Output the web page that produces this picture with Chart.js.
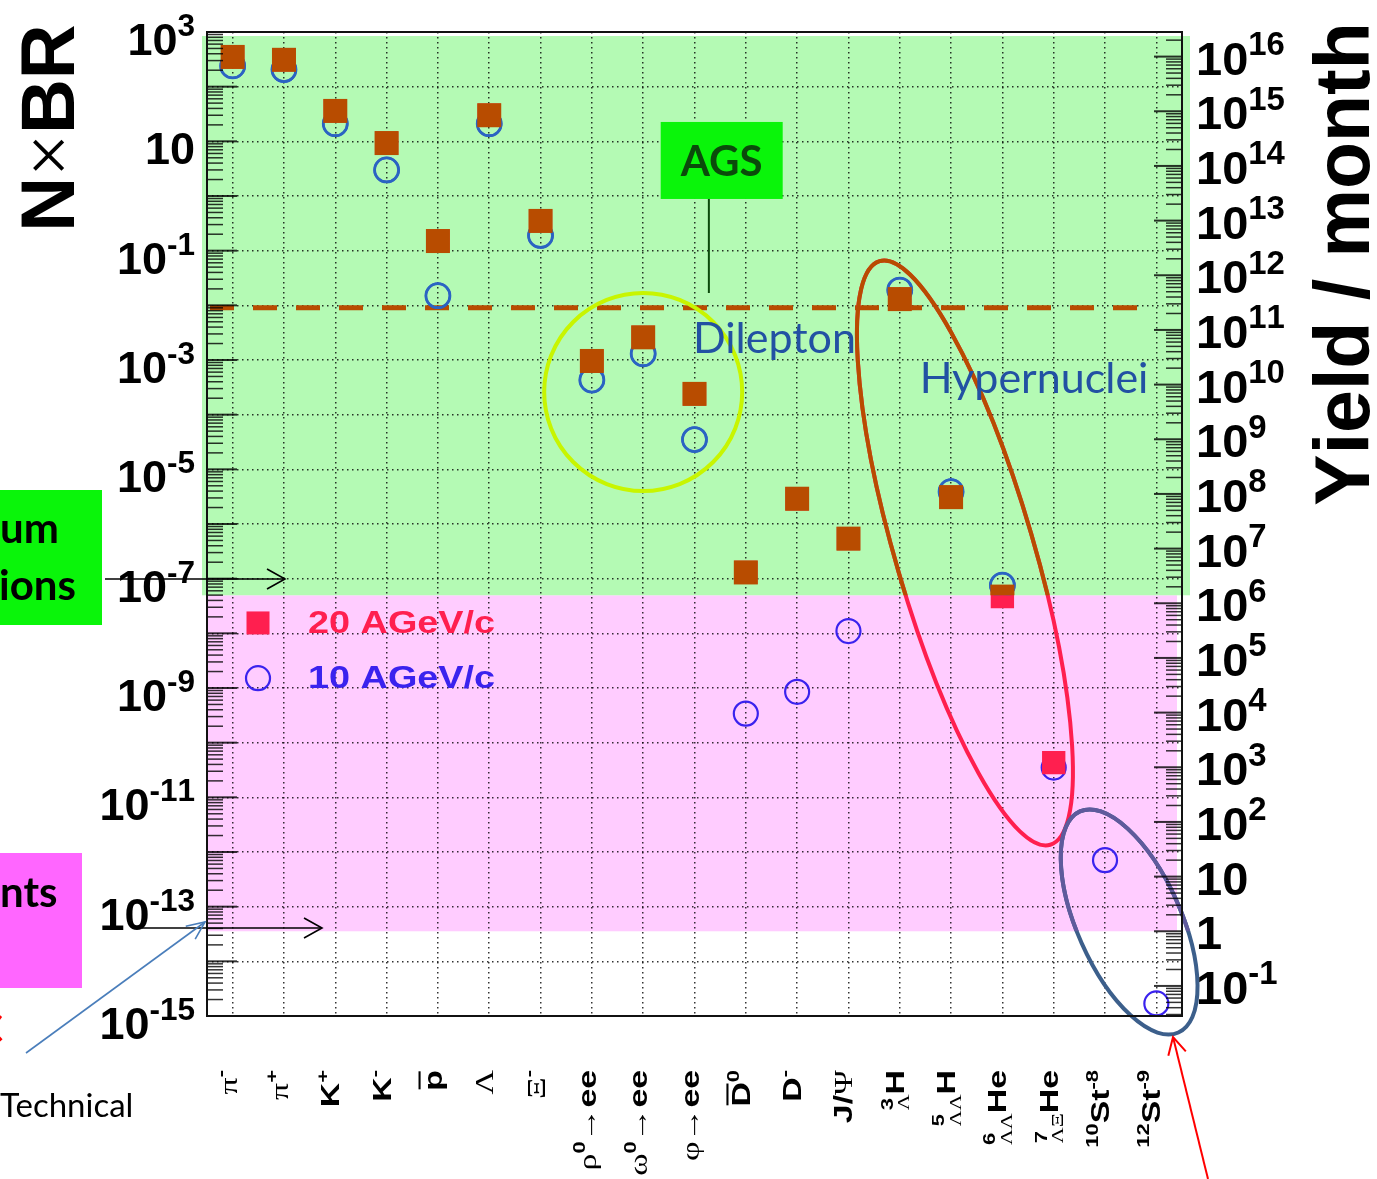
<!DOCTYPE html>
<html lang="en">
<head>
<meta charset="UTF-8">
<title>N×BR and yield per month</title>
<script src="https://cdn.jsdelivr.net/npm/chart.js@4"></script>
<style>
  body { margin: 0; background: #fff; }
  #wrap { width: 1377px; height: 1179px; }
</style>
</head>
<body>
<div id="wrap"><canvas id="chart" width="1377" height="1179"></canvas></div>
<script>
// particle species, TLatex-like markup (^{} sup, _{} sub, #bar{} overline)
const categories = ['π^{-}', 'π^{+}', 'K^{+}', 'K^{-}', '#bar{p}', 'Λ', 'Ξ^{-}',
  'ρ^{0}→ee', 'ω^{0}→ee', 'φ→ee', '#bar{D}^{0}', 'D^{-}', 'J/Ψ',
  '^{3}_{Λ}H', '^{5}_{ΛΛ}H', '^{6}_{ΛΛ}He', '^{7}_{ΛΞ}He', '^{10}St^{-8}', '^{12}St^{-9}'];

// N x BR per species
const agev20 = [350, 310, 36, 9.3, 0.15, 30, 0.35, 9.6e-4, 2.6e-3, 2.4e-4, 1.3e-7, 2.9e-6, 5.4e-7,
  1.3e-2, 3.1e-6, 4.7e-8, 4.3e-11, null, null];
const agev10 = [240, 205, 21, 3.0, 1.5e-2, 21, 0.19, 4.3e-4, 1.3e-3, 3.5e-5, 3.4e-10, 8.5e-10, 1.1e-8,
  1.9e-2, 3.9e-6, 7.6e-8, 3.5e-11, 7.1e-13, 1.7e-15];

const leftTickValues = [1e3, 1e1, 1e-1, 1e-3, 1e-5, 1e-7, 1e-9, 1e-11, 1e-13, 1e-15];
const leftTickLabels = ['10^{3}', '10', '10^{-1}', '10^{-3}', '10^{-5}', '10^{-7}', '10^{-9}', '10^{-11}', '10^{-13}', '10^{-15}'];
const rightTickValues = [1e16, 1e15, 1e14, 1e13, 1e12, 1e11, 1e10, 1e9, 1e8, 1e7, 1e6, 1e5, 1e4, 1e3, 1e2, 1e1, 1, 1e-1];
const rightTickLabels = ['10^{16}', '10^{15}', '10^{14}', '10^{13}', '10^{12}', '10^{11}', '10^{10}', '10^{9}', '10^{8}',
  '10^{7}', '10^{6}', '10^{5}', '10^{4}', '10^{3}', '10^{2}', '10', '1', '10^{-1}'];

const yieldShift = 13.45;      // decades between N x BR and yield / month
const greenFloor = 1.4e6;      // yield/month, bottom of green band
const pinkFloor = 1;           // yield/month, bottom of pink band
const agsLevel = 9e-3;         // AGS dashed line (N x BR)

const RED = '#ff1f4f', BROWN = '#b84c00', BLUE = '#3a22ee', TEAL = '#2a64c2';
const GREEN_BAND = '#b4fab4', PINK_BAND = '#ffccff', LIME = '#0af50a', DARKGREEN = '#0b4a0b';
const TEXTBLUE = '#2251a3';

// ---- little rich-text helper for super/subscripts ----
const SYM = /[\u0370-\u03FF\u00D7\u2190-\u27FF]/;
function fontFor(ch, size, bold) {
  if (SYM.test(ch)) return size + 'px "Liberation Serif", "DejaVu Sans", serif';
  return (bold ? 'bold ' : '') + size + 'px "Liberation Sans", Arial, sans-serif';
}
function textWidth(ctx, t, size, bold) {
  let w = 0;
  for (const ch of t) { ctx.font = fontFor(ch, size, bold); w += ctx.measureText(ch).width; }
  return w;
}
function parseRich(s) {
  const segs = [];
  let i = 0;
  while (i < s.length) {
    const c = s[i];
    if ((c === '^' || c === '_') && s[i + 1] === '{') {
      const end = s.indexOf('}', i);
      const kind = c === '^' ? 'sup' : 'sub';
      const prev = segs[segs.length - 1];
      segs.push({ t: s.slice(i + 2, end), kind, stack: kind === 'sub' && !!prev && prev.kind === 'sup' && prev.end === i, end: end + 1 });
      i = end + 1;
    } else if (s.startsWith('#bar{', i)) {
      const end = s.indexOf('}', i);
      segs.push({ t: s.slice(i + 5, end), kind: 'bar', end: end + 1 });
      i = end + 1;
    } else {
      let j = i + 1;
      while (j < s.length && !'^_#'.includes(s[j])) j++;
      segs.push({ t: s.slice(i, j), kind: 'base', end: j });
      i = j;
    }
  }
  return segs;
}
function layoutRich(ctx, s, size, bold, sc) {
  sc = Object.assign({ sup: 0.65, raise: 0.42, sub: 0.65, drop: 0.22 }, sc || {});
  let x = 0, stackStart = 0, prevW = 0;
  const runs = [];
  for (const seg of parseRich(s)) {
    const small = seg.kind === 'sup' || seg.kind === 'sub';
    const sz = small ? size * sc[seg.kind] : size;
    const dy = seg.kind === 'sup' ? -size * sc.raise : seg.kind === 'sub' ? size * sc.drop : 0;
    const w = textWidth(ctx, seg.t, sz, bold);
    if (seg.stack) x = stackStart;
    runs.push({ t: seg.t, x, dy, sz, w, bar: seg.kind === 'bar' });
    if (seg.stack) x = stackStart + Math.max(prevW, w);
    else { stackStart = x; prevW = w; x += w; }
  }
  return { runs, width: x };
}
function drawRich(ctx, lay, x0, y0, bold) {
  ctx.textAlign = 'left';
  ctx.textBaseline = 'alphabetic';
  for (const r of lay.runs) {
    let x = x0 + r.x;
    for (const ch of r.t) {
      ctx.font = fontFor(ch, r.sz, bold);
      ctx.fillText(ch, x, y0 + r.dy);
      x += ctx.measureText(ch).width;
    }
    if (r.bar) ctx.fillRect(x0 + r.x + 1, y0 - r.sz * 0.9, r.w - 2, Math.max(2, r.sz * 0.08));
  }
}

function arrow(ctx, x1, y1, x2, y2, color, w, head, half) {
  const ang = Math.atan2(y2 - y1, x2 - x1);
  ctx.save();
  ctx.strokeStyle = color; ctx.lineWidth = w;
  ctx.beginPath(); ctx.moveTo(x1, y1); ctx.lineTo(x2, y2); ctx.stroke();
  ctx.beginPath();
  ctx.moveTo(x2 - head * Math.cos(ang) - half * Math.sin(ang), y2 - head * Math.sin(ang) + half * Math.cos(ang));
  ctx.lineTo(x2, y2);
  ctx.lineTo(x2 - head * Math.cos(ang) + half * Math.sin(ang), y2 - head * Math.sin(ang) - half * Math.cos(ang));
  ctx.stroke();
  ctx.restore();
}

// stroke a path in one colour, then again in another colour above the given y edge
function twoTone(chart, edge, path, upper, lower, w) {
  const ctx = chart.ctx;
  ctx.save();
  ctx.lineWidth = w;
  ctx.strokeStyle = lower; path(ctx); ctx.stroke();
  ctx.beginPath(); ctx.rect(0, 0, chart.width, edge); ctx.clip();
  ctx.strokeStyle = upper; path(ctx); ctx.stroke();
  ctx.restore();
}

function squareMark(ctx, x, y, side, color) {
  ctx.fillStyle = color;
  ctx.fillRect(x - side / 2, y - side / 2, side, side);
}
function ringMark(ctx, x, y, r, w, color) {
  ctx.strokeStyle = color; ctx.lineWidth = w;
  ctx.beginPath(); ctx.arc(x, y, r, 0, Math.PI * 2); ctx.stroke();
}

const decor = {
  id: 'decor',
  beforeDraw(chart) {
    const { ctx, chartArea: a, scales: { y2 } } = chart;
    const gy = y2.getPixelForValue(greenFloor), py = y2.getPixelForValue(pinkFloor);
    ctx.save();
    ctx.fillStyle = '#fff';
    ctx.fillRect(0, 0, chart.width, chart.height);
    ctx.fillStyle = PINK_BAND;
    ctx.fillRect(a.left, gy, a.right - 5 - a.left, py - gy);
    ctx.fillStyle = GREEN_BAND;
    ctx.fillRect(a.left - 5, a.top + 4, a.right - a.left + 13, gy - a.top - 4);
    ctx.restore();
  },
  beforeDatasetsDraw(chart) {
    const { ctx, chartArea: a, scales: { x, y, y2 } } = chart;
    const gy = y2.getPixelForValue(greenFloor), py = y2.getPixelForValue(pinkFloor);
    ctx.save();
    // AGS level
    const ly = y.getPixelForValue(agsLevel);
    ctx.strokeStyle = BROWN; ctx.lineWidth = 5; ctx.setLineDash([24, 19]);
    ctx.beginPath(); ctx.moveTo(a.left + 3, ly); ctx.lineTo(x.getPixelForValue(17.82), ly); ctx.stroke();
    ctx.setLineDash([]);
    // connector from AGS box
    ctx.strokeStyle = DARKGREEN; ctx.lineWidth = 2;
    const cx = x.getPixelForValue(9.28);
    ctx.beginPath(); ctx.moveTo(cx, y.getPixelForValue(10 ** 0.65) + 38); ctx.lineTo(cx, y.getPixelForValue(0.0168)); ctx.stroke();
    // dilepton ring
    ctx.strokeStyle = '#c8f500'; ctx.lineWidth = 4;
    ctx.beginPath(); ctx.arc(x.getPixelForValue(8), y.getPixelForValue(2.6e-4), 99, 0, Math.PI * 2); ctx.stroke();
    ctx.restore();
    // hypernuclei ellipse
    const hx = x.getPixelForValue(14.27), hy = y.getPixelForValue(10 ** -6.53);
    twoTone(chart, gy, c => { c.beginPath(); c.ellipse(hx, hy, 304, 69, 73.7 * Math.PI / 180, 0, Math.PI * 2); }, BROWN, RED, 4);
    // strangelet ellipse
    const sx = x.getPixelForValue(17.47), sy = y.getPixelForValue(10 ** -13.28);
    twoTone(chart, py, c => { c.beginPath(); c.ellipse(sx, sy, 121, 52, 66 * Math.PI / 180, 0, Math.PI * 2); }, '#5f5a9c', '#3c5f8b', 4);
  },
  afterDatasetsDraw(chart) {
    // markers inside the green band look tinted
    const { ctx, scales: { y2 } } = chart;
    const gy = y2.getPixelForValue(greenFloor);
    ctx.save();
    ctx.beginPath(); ctx.rect(0, 0, chart.width, gy); ctx.clip();
    chart.getDatasetMeta(1).data.forEach((pt, j) => {
      if (agev10[j] != null) ringMark(ctx, pt.x, pt.y, 12, 2.8, TEAL);
    });
    chart.getDatasetMeta(0).data.forEach((pt, j) => {
      if (agev20[j] != null) squareMark(ctx, pt.x, pt.y, 24, BROWN);
    });
    ctx.restore();
  },
  afterDraw(chart) {
    const { ctx, chartArea: a, scales: { x, y, y2 } } = chart;
    ctx.save();

    // tick marks inside the frame
    ctx.strokeStyle = 'rgba(0,0,0,0.8)';
    for (let e = -15; e <= 3; e++) {
      for (let m = 1; m <= 9; m++) {
        const v = m * Math.pow(10, e);
        if (v > 1e3 * 1.0001) break;
        const p = y.getPixelForValue(v);
        const len = m === 1 ? 30 : 16;
        ctx.lineWidth = m === 1 ? 2 : 1.5;
        ctx.beginPath(); ctx.moveTo(a.left, p); ctx.lineTo(a.left + len, p); ctx.stroke();
      }
    }
    for (let e = -2; e <= 16; e++) {
      for (let m = 1; m <= 9; m++) {
        const v = m * Math.pow(10, e);
        if (v < y2.min || v > y2.max) continue;
        const p = y2.getPixelForValue(v);
        const len = m === 1 ? 28 : 16;
        ctx.lineWidth = m === 1 ? 2 : 1.5;
        ctx.beginPath(); ctx.moveTo(a.right, p); ctx.lineTo(a.right - len, p); ctx.stroke();
      }
    }
    // frame
    ctx.strokeStyle = '#111'; ctx.lineWidth = 2;
    ctx.strokeRect(a.left, a.top, a.right - a.left, a.bottom - a.top);

    // axis labels
    ctx.fillStyle = '#000';
    leftTickLabels.forEach((lab, i) => {
      const lay = layoutRich(ctx, lab, 45, true, { sup: 0.7, raise: 0.42 });
      drawRich(ctx, lay, a.left - 12 - lay.width, y.getPixelForValue(leftTickValues[i]) + 23, true);
    });
    rightTickLabels.forEach((lab, i) => {
      const lay = layoutRich(ctx, lab, 47, true, { sup: 0.7, raise: 0.42 });
      drawRich(ctx, lay, a.right + 14, y2.getPixelForValue(rightTickValues[i]) + 18, true);
    });
    categories.forEach((lab, i) => {
      const lay = layoutRich(ctx, lab, 26, true);
      ctx.save();
      ctx.translate(x.getPixelForValue(i), a.bottom + 54);
      ctx.rotate(-Math.PI / 2);
      ctx.scale(1.3, 1);
      drawRich(ctx, lay, -lay.width, 4, true);
      ctx.restore();
    });

    // axis titles
    [['N×BR', 47, 128, 76], ['Yield / month', 1341, 264, 77]].forEach(([t, tx, ty, sz]) => {
      const lay = layoutRich(ctx, t, sz, true);
      ctx.save();
      ctx.translate(tx, ty); ctx.rotate(-Math.PI / 2);
      drawRich(ctx, lay, -lay.width / 2, sz * 0.716 / 2, true);
      ctx.restore();
    });

    // legend
    const lx = x.getPixelForValue(0.494);
    const l1 = y.getPixelForValue(10 ** -7.81), l2 = y.getPixelForValue(10 ** -8.82);
    squareMark(ctx, lx, l1, 23, RED);
    ringMark(ctx, lx, l2, 12, 2.2, BLUE);
    ctx.font = 'bold 31px "Liberation Sans", Arial, sans-serif';
    ctx.textAlign = 'left'; ctx.textBaseline = 'alphabetic';
    [['20 AGeV/c', l1 + 10, RED], ['10 AGeV/c', l2 + 10, BLUE]].forEach(([t, ty, c]) => {
      ctx.save();
      ctx.fillStyle = c;
      ctx.translate(lx + 50, ty); ctx.scale(1.22, 1);
      ctx.fillText(t, 0, 0);
      ctx.restore();
    });

    // in-plot annotations
    ctx.fillStyle = TEXTBLUE;
    ctx.font = '43px Lato, "Open Sans", sans-serif';
    ctx.fillText('Dilepton', x.getPixelForValue(8.97), y.getPixelForValue(10 ** -2.87));
    ctx.fillText('Hypernuclei', x.getPixelForValue(13.39), y.getPixelForValue(10 ** -3.6));

    const bx = x.getPixelForValue(9.53), by = y.getPixelForValue(10 ** 0.65);
    ctx.fillStyle = LIME;
    ctx.fillRect(bx - 61, by - 38.5, 122, 77);
    ctx.fillStyle = DARKGREEN;
    ctx.font = 'bold 42px Lato, "Open Sans", sans-serif';
    ctx.textAlign = 'center';
    ctx.fillText('AGS', bx, by + 16);

    // slide annotations around the plot
    ctx.textAlign = 'left';
    ctx.fillStyle = LIME;
    ctx.fillRect(0, 490, 102, 135);
    ctx.fillStyle = '#ff66ff';
    ctx.fillRect(0, 853, 82, 135);
    ctx.fillStyle = '#000';
    ctx.font = 'bold 42px Lato, "Open Sans", sans-serif';
    ctx.fillText('um', 0, 543);
    ctx.fillText('ions', -1, 600);
    ctx.fillText('nts', 0, 907);
    ctx.fillStyle = '#ff0000';
    ctx.textAlign = 'right';
    ctx.fillText('C', 3, 1044);
    ctx.textAlign = 'left';
    ctx.fillStyle = '#000';
    ctx.font = '33px Lato, "Open Sans", sans-serif';
    ctx.fillText('Technical', 0, 1117);

    arrow(ctx, 105, 579, 285, 579, '#000', 1.6, 18, 10);
    arrow(ctx, 142, 928, 322, 928, '#000', 1.6, 18, 10);
    arrow(ctx, 26, 1053, 205, 922, '#4a7ebb', 1.6, 18, 8);
    arrow(ctx, 1208, 1179, 1173, 1037, '#ff0000', 2, 17, 9);
    ctx.restore();
  }
};

const decadeTicks = [];
for (let e = -15; e <= 3; e++) decadeTicks.push({ value: Math.pow(10, e) });

new Chart(document.getElementById('chart'), {
  type: 'line',
  data: {
    labels: categories,
    datasets: [
      { label: '20 AGeV/c', data: agev20, showLine: false, pointStyle: 'rect', pointRadius: 16.5,
        pointBackgroundColor: RED, pointBorderWidth: 0 },
      { label: '10 AGeV/c', data: agev10, showLine: false, pointStyle: 'circle', pointRadius: 12,
        pointBackgroundColor: 'rgba(0,0,0,0)', pointBorderColor: BLUE, pointBorderWidth: 2.2 }
    ]
  },
  options: {
    responsive: false,
    animation: false,
    events: [],
    layout: { padding: { left: 207, right: 195, top: 32, bottom: 163 } },
    plugins: { legend: { display: false }, tooltip: { enabled: false } },
    scales: {
      x: {
        offset: true,
        grid: { offset: false, drawTicks: false, color: 'rgba(0,0,0,0.8)', lineWidth: 1.5 },
        border: { display: false, dash: [1.5, 3.5] },
        ticks: { display: false }
      },
      y: {
        type: 'logarithmic', min: 1e-15, max: 1e3,
        afterBuildTicks: axis => { axis.ticks = decadeTicks.slice(); },
        grid: { drawTicks: false, color: 'rgba(0,0,0,0.8)', lineWidth: 1.5 },
        border: { display: false, dash: [1.5, 3.5] },
        ticks: { display: false }
      },
      y2: {
        type: 'logarithmic', position: 'right',
        min: 1e-15 * Math.pow(10, yieldShift), max: 1e3 * Math.pow(10, yieldShift),
        grid: { drawOnChartArea: false, drawTicks: false },
        border: { display: false },
        ticks: { display: false }
      }
    }
  },
  plugins: [decor]
});
</script>
</body>
</html>
